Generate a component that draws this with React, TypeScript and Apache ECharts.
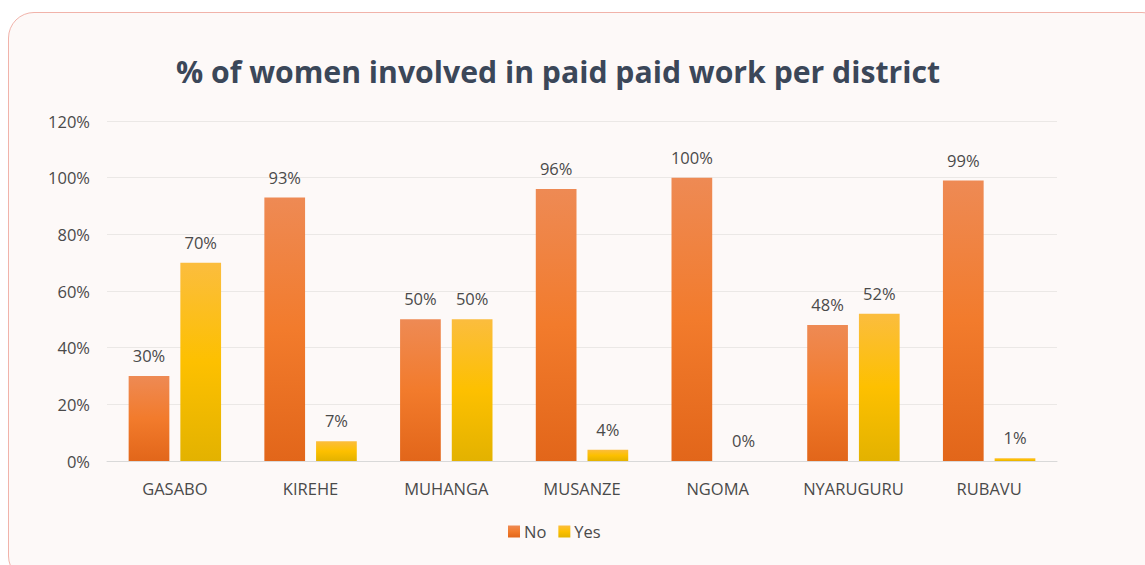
import React, { useEffect, useRef } from "react";
import * as echarts from "echarts";

const categories = ["GASABO", "KIREHE", "MUHANGA", "MUSANZE", "NGOMA", "NYARUGURU", "RUBAVU"];
const noValues = [30, 93, 50, 96, 100, 48, 99];
const yesValues = [70, 7, 50, 4, 0, 52, 1];
const yTicks = [0, 20, 40, 60, 80, 100, 120];
const titleText = "% of women involved in paid paid work per district";

export default function App() {
  const ref = useRef<HTMLDivElement>(null);
  useEffect(() => {
    if (!ref.current) return;
    const chart = echarts.init(ref.current, undefined, { renderer: "svg" });
    const labelStyle = {
      show: true,
      position: "top",
      distance: 12,
      formatter: (p: any) => p.value + "%",
      color: "#4a4a4a",
      fontSize: 16.5,
      fontFamily: "Open Sans",
    };
    chart.setOption({
      animation: false,
      backgroundColor: "transparent",
      title: {
        text: titleText,
        left: 553,
        textAlign: "center",
        top: 51,
        textStyle: { fontFamily: "Open Sans", fontWeight: "bold", fontSize: 30.2, color: "#3b4759" },
      },
      legend: {
        data: ["No", "Yes"],
        bottom: 20,
        left: 503,
        itemWidth: 12,
        itemHeight: 12,
        itemGap: 12,
        icon: "rect",
        textStyle: { fontFamily: "Open Sans", fontSize: 16.5, color: "#4a4a4a", padding: [0, 0, 0, -1] },
      },
      grid: { left: 107, right: 88, top: 121, bottom: 104, containLabel: false },
      xAxis: {
        type: "category",
        data: categories,
        axisLine: { lineStyle: { color: "#d9d9d9" } },
        axisTick: { show: false },
        axisLabel: { color: "#4a4a4a", fontSize: 16.5, fontFamily: "Open Sans", margin: 19 },
      },
      yAxis: {
        type: "value",
        min: yTicks[0],
        max: yTicks[yTicks.length - 1],
        interval: 20,
        axisLabel: { formatter: "{value}%", color: "#4a4a4a", fontSize: 16.5, fontFamily: "Open Sans", margin: 17 },
        splitLine: { lineStyle: { color: "#ebe8e6" } },
        axisLine: { show: false },
        axisTick: { show: false },
      },
      series: [
        {
          name: "No",
          type: "bar",
          data: noValues,
          barWidth: "30%",
          barGap: "27%",
          itemStyle: {
            color: new echarts.graphic.LinearGradient(0, 0, 0, 1, [
              { offset: 0, color: "#ee8a54" },
              { offset: 0.5, color: "#f27b2c" },
              { offset: 1, color: "#e2661a" },
            ]),
          },
          label: labelStyle,
        },
        {
          name: "Yes",
          type: "bar",
          data: yesValues,
          barWidth: "30%",
          itemStyle: {
            color: new echarts.graphic.LinearGradient(0, 0, 0, 1, [
              { offset: 0, color: "#fbbd3e" },
              { offset: 0.5, color: "#fdc000" },
              { offset: 1, color: "#e3b200" },
            ]),
          },
          label: labelStyle,
        },
      ],
    });
    return () => chart.dispose();
  }, []);
  return (
    <div style={{ position: "fixed", left: 0, top: 0, width: 1145, height: 565, background: "#ffffff", overflow: "hidden" }}>
      <div
        style={{
          position: "absolute",
          left: 8,
          top: 12,
          width: 1160,
          height: 570,
          border: "1.5px solid #f1b3aa",
          borderRadius: 26,
          background: "#fdf9f8",
          boxSizing: "border-box",
        }}
      />
      <div ref={ref} style={{ position: "absolute", left: 0, top: 0, width: 1145, height: 565 }} />
    </div>
  );
}
